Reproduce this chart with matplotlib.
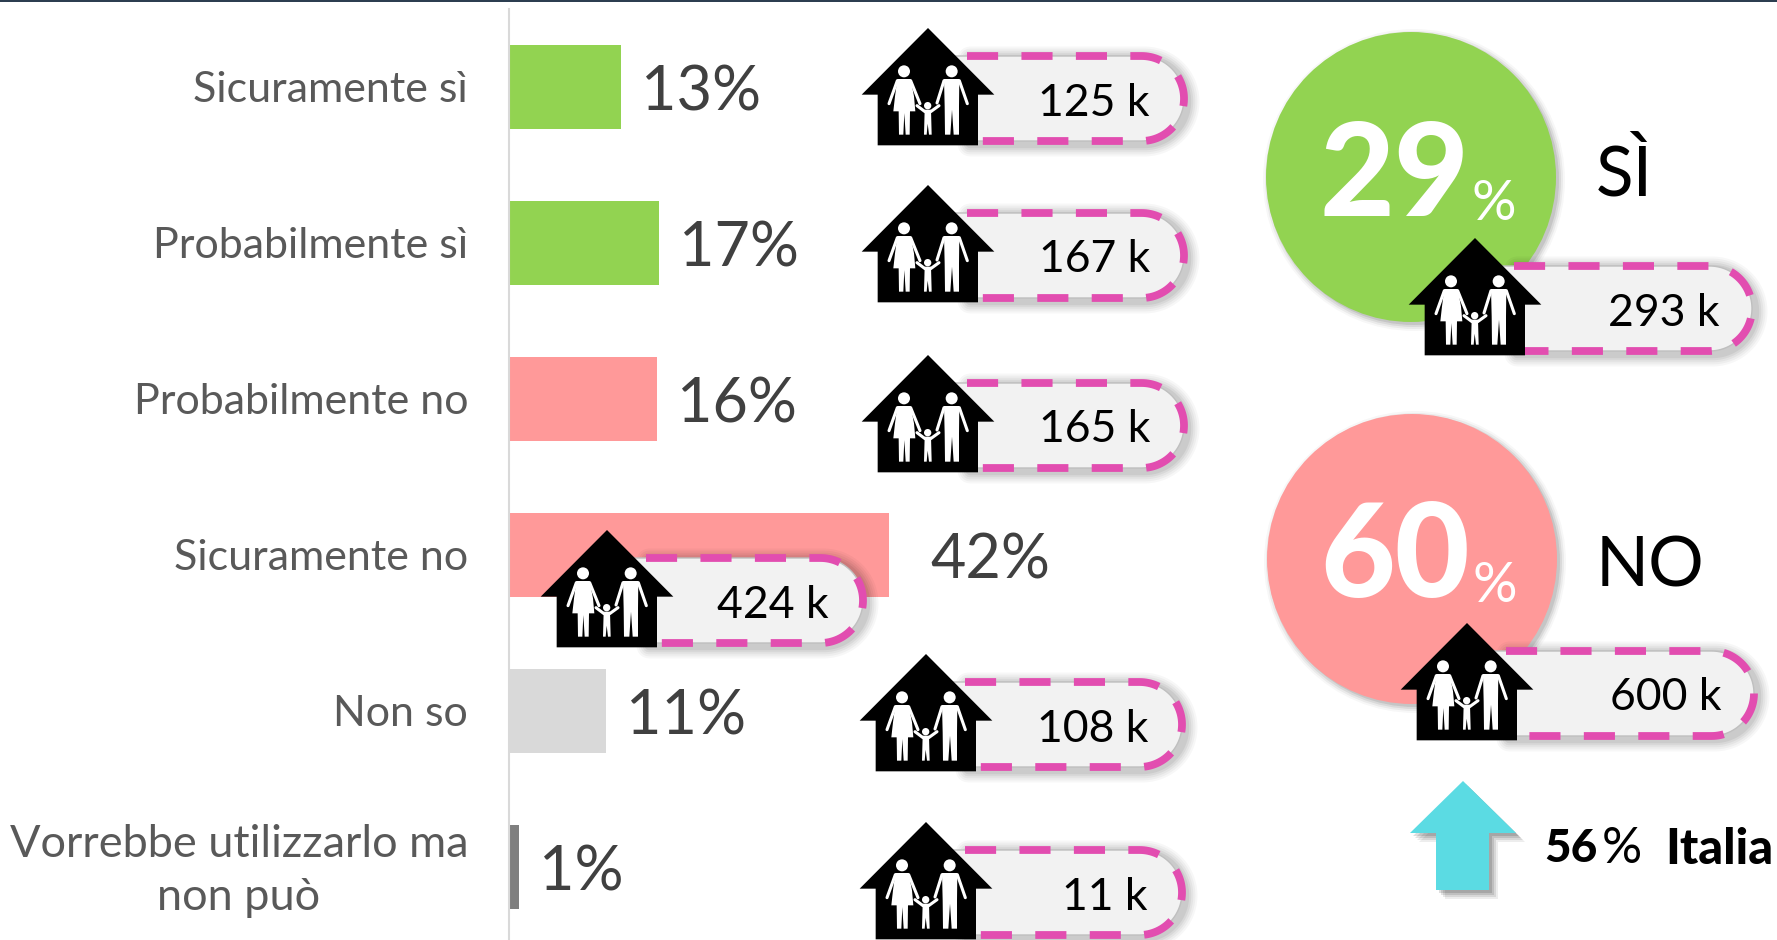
import numpy as np
import matplotlib
matplotlib.use("Agg")
import matplotlib.pyplot as plt
from matplotlib.patches import Polygon, Circle, Rectangle
from matplotlib.transforms import ScaledTranslation

plt.rcParams['font.family'] = ['Lato', 'DejaVu Sans']

# ---- data ----
categories = ["Sicuramente sì", "Probabilmente sì", "Probabilmente no", "Sicuramente no",
              "Non so", "Vorrebbe utilizzarlo ma\nnon può"]
bar_values = [12.4, 16.6, 16.4, 42.1, 10.7, 1.1]
pct_labels = ["13%", "17%", "16%", "42%", "11%", "1%"]
k_labels = ["125 k", "167 k", "165 k", "424 k", "108 k", "11 k"]
bar_colors = ["#92D351", "#92D351", "#FF9999", "#FF9999", "#D9D9D9", "#7F7F7F"]
summary_values = ["29", "60"]
summary_names = ["SÌ", "NO"]
summary_k = ["293 k", "600 k"]
summary_colors = ["#92D351", "#FF9999"]
italia_value = "56"
italia_name = "Italia"

# ---- layout (pixels) ----
W, H = 1777, 940
house_xy = [(928, 28), (928, 185), (928, 355), (607, 530), (926, 654), (926, 822)]
sum_house_xy = [(1475, 238), (1467, 623)]
sum_pill_w = [277, 287]
sum_text_dx = [244, 254]
circle_xy = [(1411, 177), (1412, 559)]
circle_r = 145
PILL = "#F2F2F2"
DASH = "#E24DB0"

fig = plt.figure(figsize=(W / 100, H / 100), dpi=100, facecolor="white")

# bar axes
top_px = 9
row0, step = 87, 156
px_per_pct = 9.03
ax = fig.add_axes([509 / W, 0, (W - 509) / W, (H - top_px) / H])
ax.set_xlim(0, (W - 509) / px_per_pct)
ax.set_ylim((H - row0) / step, (top_px - row0) / step)
ypos = np.arange(len(categories))
ax.barh(ypos, bar_values, height=84 / step, color=bar_colors, linewidth=0)
ax.set_yticks(ypos)
ax.set_yticklabels(categories, fontsize=31, color="#595959", ma="center", linespacing=1.35)
ax.tick_params(axis="y", length=0, pad=29.5)
ax.set_xticks([])
last = ax.get_yticklabels()[-1]
last.set_fontsize(32.5)
last.set_transform(last.get_transform() + ScaledTranslation(0, 6 / 100, fig.dpi_scale_trans))
for s in ("top", "right", "bottom"):
    ax.spines[s].set_visible(False)
ax.spines["left"].set_color("#D9D9D9")
ax.spines["left"].set_linewidth(1.5)
for i, (v, lab) in enumerate(zip(bar_values, pct_labels)):
    off = 41 if i == 3 else 20
    ax.annotate(lab, (v, i), xytext=(off, -6), textcoords="offset pixels",
                fontsize=44, color="#404040", va="center", ha="left")

# overlay axes in pixels
ov = fig.add_axes([0, 0, 1, 1], facecolor="none")
ov.set_xlim(0, W)
ov.set_ylim(H, 0)
ov.axis("off")
ov.add_patch(Rectangle((0, 0), W, 2, color="#2C3E50", lw=0))

WOMAN = [(172, 238), (212, 238), (222, 290), (226, 335), (210, 335), (209, 405), (197, 405), (193, 340),
         (190, 405), (177, 405), (176, 335), (160, 335), (165, 290)]
MAN = [(312, 238), (358, 238), (357, 320), (357, 405), (341, 405), (336, 330), (331, 405), (315, 405), (314, 320)]
CHILD = [(254, 330), (273, 330), (275, 405), (267, 405), (263, 372), (260, 405), (252, 405)]
ARMS = [((172, 243), (147, 312)), ((212, 243), (240, 312)), ((312, 243), (291, 310)), ((358, 243), (382, 312)),
        ((255, 336), (231, 318)), ((272, 336), (297, 318))]
HEADS = [(192, 215, 18), (335, 215, 18), (263, 318, 11)]


def house(ax_x, ax_y, z=6):
    def t(p):
        return [(ax_x + (x - 264) / 3, ax_y + (y - 85) / 3) for x, y in p]
    outline = [(264, 85), (463, 285), (414, 285), (414, 437), (113, 437), (113, 285), (65, 285)]
    ov.add_patch(Polygon(t(outline), closed=True, fc="black", ec="none", zorder=z))
    for part in (WOMAN, MAN, CHILD):
        ov.add_patch(Polygon(t(part), closed=True, fc="white", ec="none", zorder=z + 1))
    for a, b in ARMS:
        (x0, y0), (x1, y1) = t([a, b])
        ov.plot([x0, x1], [y0, y1], color="white", lw=2.2, solid_capstyle="round", zorder=z + 1)
    for x, y, r in HEADS:
        (cx, cy), = t([(x, y)])
        ov.add_patch(Circle((cx, cy), r / 3, fc="white", ec="none", zorder=z + 1))


def pill_path(x0, x1, y0, y1):
    r = (y1 - y0) / 2
    th = np.linspace(-np.pi / 2, np.pi / 2, 60)
    xs = np.r_[x0, x1 - r + r * np.cos(th), x0]
    ys = np.r_[y0, (y0 + y1) / 2 + r * np.sin(th), y1]
    return xs, ys


def pill(ax_x, ax_y, width, label, text_dx, z=4):
    x0 = ax_x + 39
    x1 = ax_x + width
    y0, y1 = ax_y + 28, ax_y + 113
    xs, ys = pill_path(x0, x1, y0, y1)
    # soft shadow
    for lw, a in zip([18, 15, 12, 9, 6], [0.03, 0.035, 0.04, 0.05, 0.06]):
        ov.plot(xs + 3, ys + 3, color="black", alpha=a, lw=lw, solid_capstyle="round",
                solid_joinstyle="round", zorder=z - 1)
    ov.fill(np.r_[ax_x, xs], np.r_[y0, ys], fc=PILL, ec="#BFBFBF", lw=1, zorder=z)
    ov.plot(xs, ys, color=DASH, lw=5.6, dashes=(4.0, 3.0), dash_capstyle="butt",
            dash_joinstyle="round", zorder=z + 0.5)
    ov.text(ax_x + text_dx, ax_y + 75, label, fontsize=32, color="black",
            ha="right", va="center", zorder=z + 1)


for (x, y), lab in zip(house_xy, k_labels):
    pill(x, y, 256, lab, 222)
    house(x, y)

# summary circles
for (cx, cy), col, val, name, k, hxy, ny, pw, tdx in zip(circle_xy, summary_colors, summary_values, summary_names,
                                                         summary_k, sum_house_xy, [175, 567], sum_pill_w, sum_text_dx):
    for dr, a in zip([6, 4, 2, 0], [0.03, 0.05, 0.07, 0.09]):
        ov.add_patch(Circle((cx + 3, cy + 3), circle_r + dr, fc="black", alpha=a, ec="none", zorder=1))
    ov.add_patch(Circle((cx, cy), circle_r, fc=col, ec="none", zorder=2))
    ov.text(cx + 58, cy + 1, val, fontsize=93, fontweight=900, color="white",
            ha="right", va="center", zorder=3)
    ov.text(cx + 83, cy + 28, "%", fontsize=40, color="white", ha="center", va="center", zorder=3)
    ov.text(1596, ny, name, fontsize=50, color="black", ha="left", va="center", zorder=3)
    pill(hxy[0], hxy[1], pw, k, tdx)
    house(*hxy)

# arrow
arrow = [(1463, 781), (1516, 833), (1489, 833), (1489, 890), (1436, 890), (1436, 833), (1410, 833)]
for dx, a in zip([9, 7, 5, 3], [0.07, 0.09, 0.11, 0.13]):
    ov.add_patch(Polygon([(x + dx, y + dx) for x, y in arrow], closed=True, fc="black", alpha=a, ec="none", zorder=1))
ov.add_patch(Polygon(arrow, closed=True, fc="#5BDBE3", ec="none", zorder=2))
ov.text(1544, 849, italia_value, fontsize=33, fontweight=900, color="black", ha="left", va="center")
ov.text(1602, 849, "%", fontsize=36, color="black", ha="left", va="center")
ov.text(1665, 849, italia_name, fontsize=35, fontweight=900, color="black", ha="left", va="center")

fig.savefig("out.png", dpi=100, facecolor="white")
